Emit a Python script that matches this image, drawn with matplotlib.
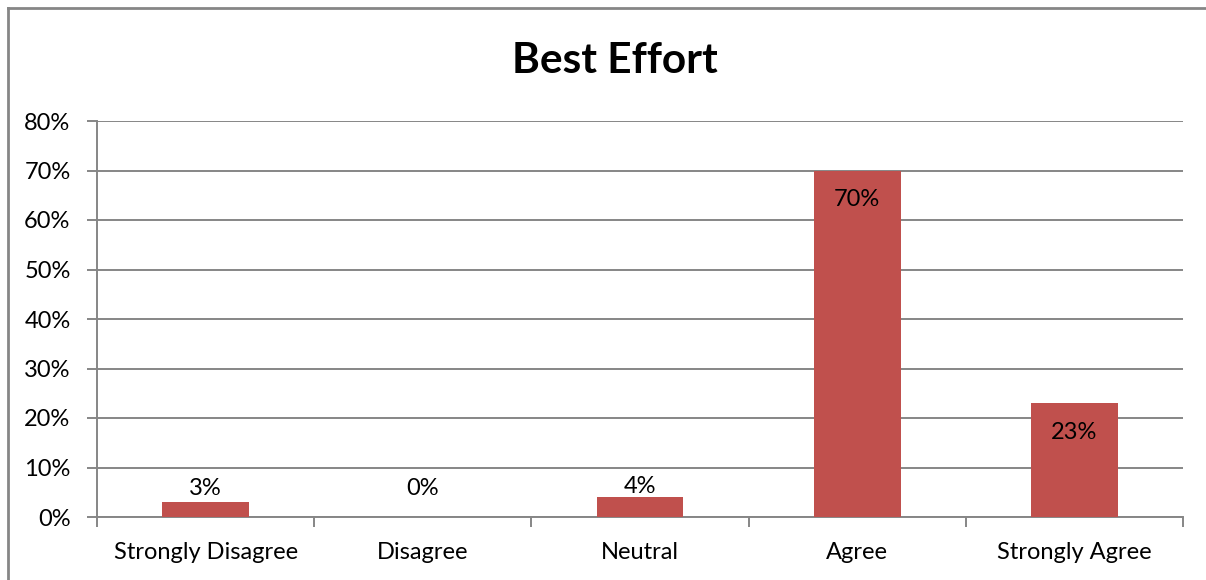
import matplotlib
matplotlib.use("Agg")
import matplotlib.pyplot as plt
from matplotlib.lines import Line2D
import numpy as np

# survey answers, share of respondents
categories = ["Strongly Disagree", "Disagree", "Neutral", "Agree", "Strongly Agree"]
shares = [0.03, 0.00, 0.04, 0.70, 0.23]
yticks = [0.0, 0.1, 0.2, 0.3, 0.4, 0.5, 0.6, 0.7, 0.8]
ytick_labels = ["0%", "10%", "20%", "30%", "40%", "50%", "60%", "70%", "80%"]

bar_color = "#C0504D"
grey = "#868686"
plt.rcParams["font.family"] = ["Lato", "DejaVu Sans"]
fs = 17

W, H = 1206, 580
fig = plt.figure(figsize=(W / 100, H / 100), dpi=100)
ax = fig.add_axes([97 / W, 1 - 517 / H, (1183 - 97) / W, (517 - 121) / H])

x = np.arange(len(categories))
ax.bar(x, shares, width=0.4, color=bar_color, zorder=3)

ax.set_xlim(-0.5, len(categories) - 0.5)
ax.set_ylim(0, 0.8)
ax.set_yticks(yticks)
ax.set_yticklabels(ytick_labels, fontsize=fs)
ax.yaxis.grid(True, color=grey, linewidth=1.4, zorder=0)

# category ticks sit on the boundaries, labels in the middle
ax.set_xticks(np.arange(len(categories) + 1) - 0.5)
ax.set_xticklabels([])
ax.set_xticks(x, minor=True)
ax.set_xticklabels(categories, minor=True, fontsize=fs)
ax.tick_params(axis="x", which="major", length=7, width=1.4, color=grey, direction="out")
ax.tick_params(axis="x", which="minor", length=0, pad=18)
ax.tick_params(axis="y", length=7, width=1.4, color=grey, pad=12)

for side in ["top", "right"]:
    ax.spines[side].set_visible(False)
for side in ["left", "bottom"]:
    ax.spines[side].set_color(grey)
    ax.spines[side].set_linewidth(1.4)

# value labels: inside the top of tall bars, above short ones
for xi, v in zip(x, shares):
    txt = f"{v:.0%}"
    if v > 0.1:
        ax.annotate(txt, (xi, v), xytext=(0, -21), textcoords="offset points",
                    ha="center", va="center", fontsize=fs)
    else:
        ax.annotate(txt, (xi, max(v, 0.037)), xytext=(0, 0), textcoords="offset points",
                    ha="center", va="bottom", fontsize=fs)

fig.text(615 / W, 1 - 61 / H, "Best Effort", ha="center", va="center",
         fontsize=30.5, fontweight="bold")

# chart frame, only the top and left edges show
fig.add_artist(Line2D([8 / W, 8 / W], [-0.1, 1 - 8 / H], color=grey, linewidth=2))
fig.add_artist(Line2D([8 / W, 1.1], [1 - 8 / H, 1 - 8 / H], color=grey, linewidth=2))

fig.savefig("out.png", dpi=100)
